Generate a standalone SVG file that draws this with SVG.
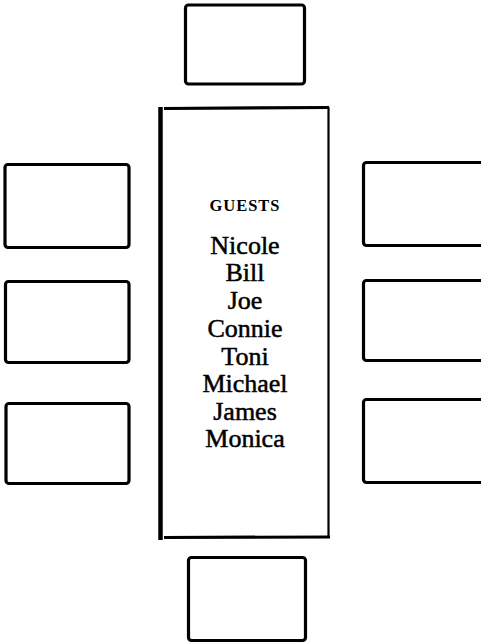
<svg xmlns="http://www.w3.org/2000/svg" width="481" height="643" viewBox="0 0 481 643">
<style>
.seat{fill:none;stroke:#000;stroke-width:3.2}
.edge{stroke:#000;fill:none;stroke-linecap:butt}
.name{font-family:"Liberation Serif","DejaVu Serif",serif;font-size:26px;text-anchor:middle;fill:#000;stroke:#000;stroke-width:0.5}
.head{font-family:"Liberation Serif","DejaVu Serif",serif;font-size:16.5px;font-weight:bold;letter-spacing:1px;text-anchor:middle;fill:#000}
</style>
<rect width="481" height="643" fill="#fff"/>
<g id="table">
<line class="edge" x1="160.5" y1="107" x2="160.5" y2="540" stroke-width="4.5"/>
<line class="edge" x1="164" y1="108.5" x2="329" y2="107.5" stroke-width="3.2"/>
<line class="edge" x1="328.5" y1="107" x2="328.5" y2="538" stroke-width="2.2"/>
<line class="edge" x1="164" y1="537.5" x2="330" y2="537" stroke-width="3.2"/>
<text class="head" x="245" y="211">GUESTS</text>
<text class="name" x="245" y="254">Nicole</text>
<text class="name" x="245" y="281">Bill</text>
<text class="name" x="245" y="309">Joe</text>
<text class="name" x="245" y="337">Connie</text>
<text class="name" x="245" y="365">Toni</text>
<text class="name" x="245" y="392">Michael</text>
<text class="name" x="245" y="420">James</text>
<text class="name" x="245" y="447">Monica</text>
</g>
<g id="seat-top"><rect class="seat" x="185.5" y="5" width="119" height="79" rx="3"/></g>
<g id="seat-bottom"><rect class="seat" x="188.5" y="557.5" width="117" height="83" rx="3"/></g>
<g id="seat-left-1"><rect class="seat" x="5" y="164.5" width="124" height="83" rx="3"/></g>
<g id="seat-left-2"><rect class="seat" x="5.5" y="281.5" width="123.5" height="81" rx="3"/></g>
<g id="seat-left-3"><rect class="seat" x="6" y="403.5" width="123" height="80" rx="3"/></g>
<g id="seat-right-1"><rect class="seat" x="363.5" y="162.5" width="130" height="83" rx="3"/></g>
<g id="seat-right-2"><rect class="seat" x="363.5" y="280.5" width="130" height="80" rx="3"/></g>
<g id="seat-right-3"><rect class="seat" x="363.5" y="399.5" width="130" height="83" rx="3"/></g>
<g id="connectors"/>
</svg>
